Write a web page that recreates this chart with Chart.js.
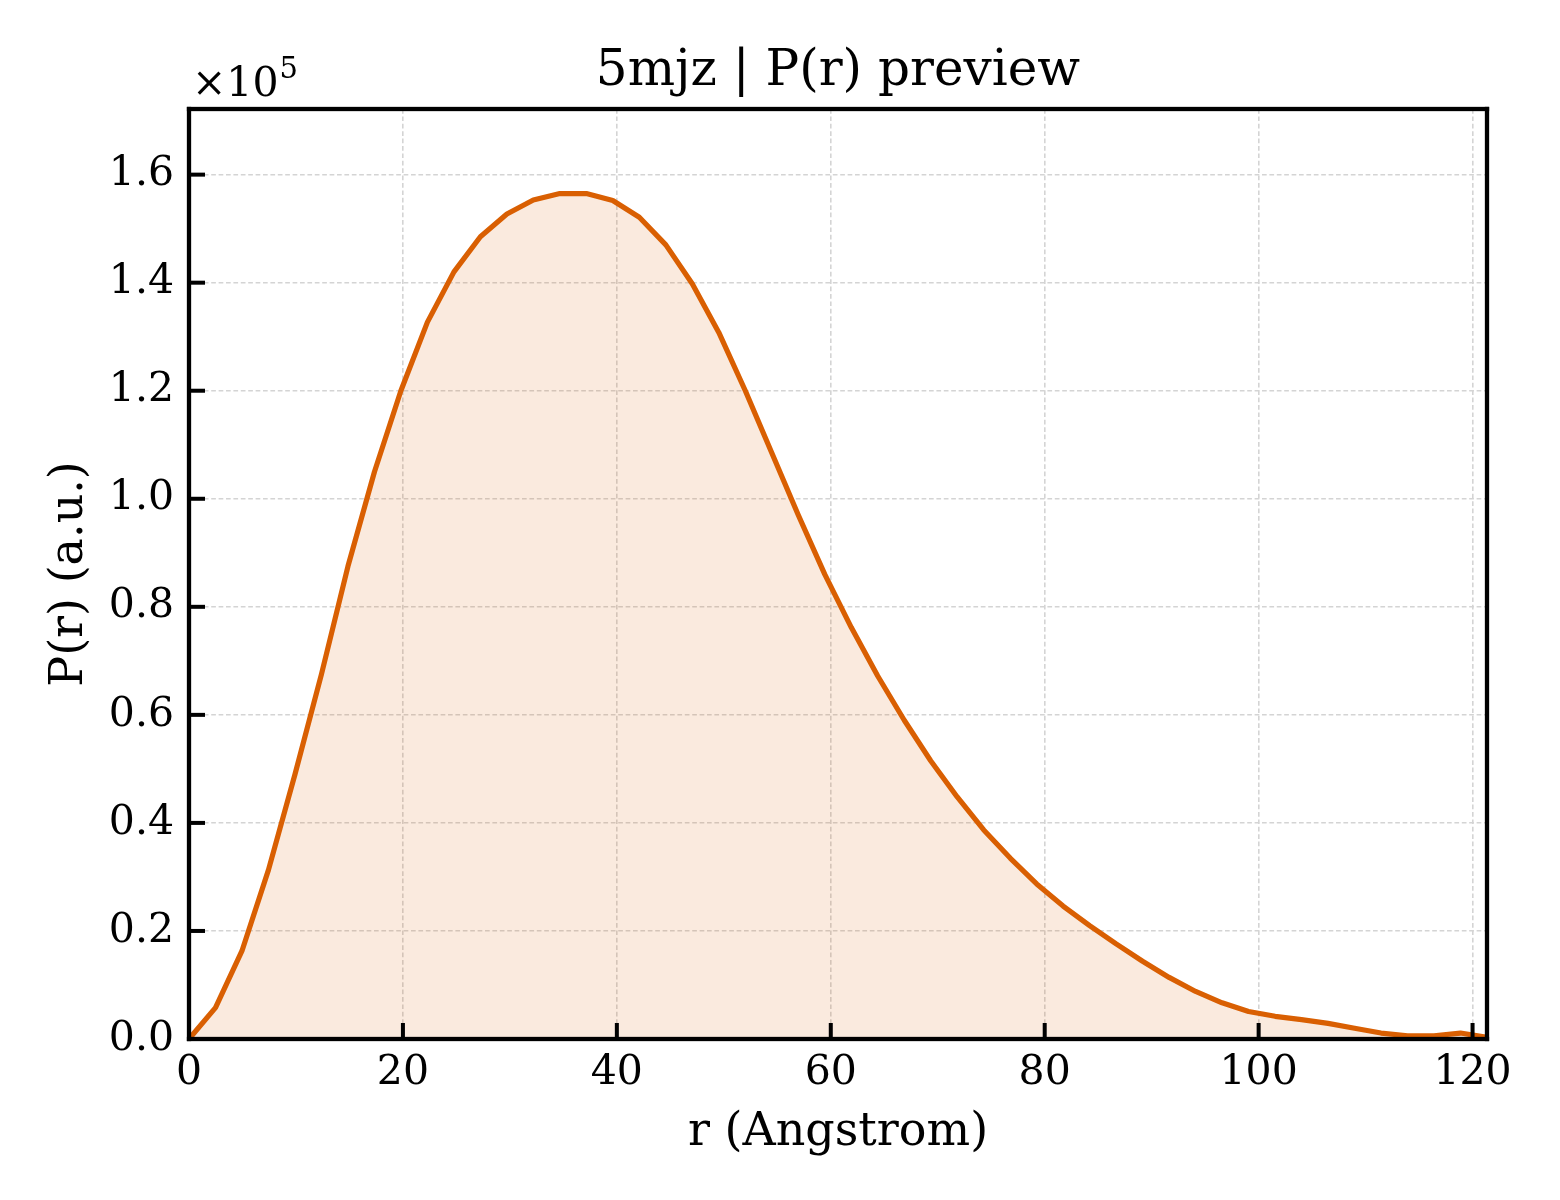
<!DOCTYPE html>
<html>
<head>
<meta charset="utf-8">
<script src="https://cdn.jsdelivr.net/npm/chart.js@4/dist/chart.umd.min.js"></script>
<style>
  html, body { margin: 0; padding: 0; background: #ffffff; }
  #wrap { width: 1560px; height: 1200px; }
</style>
</head>
<body>
<div id="wrap"><canvas id="c" width="1560" height="1200"></canvas></div>
<script>
// ---- data ----
const rValues = [0, 2.48, 4.95, 7.43, 9.91, 12.38, 14.86, 17.34, 19.81, 22.29,
  24.77, 27.24, 29.72, 32.19, 34.67, 37.15, 39.62, 42.10, 44.58, 47.05,
  49.53, 52.01, 54.48, 56.96, 59.44, 61.91, 64.39, 66.87, 69.34, 71.82,
  74.30, 76.77, 79.25, 81.72, 84.20, 86.68, 89.15, 91.63, 94.11, 96.58,
  99.06, 101.54, 104.01, 106.49, 108.97, 111.44, 113.92, 116.40, 118.87, 121.35];
const pValues = [0, 5800, 16300, 31300, 49000, 67500, 87500, 105000, 120000, 132700,
  142000, 148500, 152700, 155300, 156500, 156500, 155200, 152100, 147000, 139800,
  130800, 120000, 108500, 97000, 86000, 76200, 67200, 59000, 51500, 44800,
  38700, 33500, 28700, 24600, 21000, 17600, 14400, 11400, 8800, 6700,
  5100, 4200, 3600, 2900, 2000, 1100, 600, 600, 1100, 300];
const xTickValues = [0, 20, 40, 60, 80, 100, 120];
const yTickValues = [0, 20000, 40000, 60000, 80000, 100000, 120000, 140000, 160000];
const titleText = '5mjz | P(r) preview';
const xLabel = 'r (Angstrom)';
const yLabel = 'P(r) (a.u.)';
const offsetBase = '\u00d710';
const offsetExp = '5';

// ---- styling ----
const FONT = "'DejaVu Serif', 'Liberation Serif', serif";
const lineColor = '#D95F02';
const fillColor = 'rgba(217,95,2,0.13)';
const gridColor = '#d4d4d4';

const points = rValues.map((r, i) => ({ x: r, y: pValues[i] }));

const decoPlugin = {
  id: 'deco',
  afterDraw(chart) {
    const ctx = chart.ctx;
    const a = chart.chartArea;
    const xs = chart.scales.x, ys = chart.scales.y;
    ctx.save();
    ctx.setLineDash([]);
    ctx.fillStyle = '#000';
    // inward ticks
    for (const v of xTickValues) {
      const px = xs.getPixelForValue(v);
      ctx.fillRect(px - 2, a.bottom - 16, 4, 16);
    }
    for (const v of yTickValues) {
      const py = ys.getPixelForValue(v);
      ctx.fillRect(a.left, py - 2, 16, 4);
    }
    // frame
    const fw = 4.3;
    ctx.fillRect(a.left - fw / 2, a.top - fw / 2, a.right - a.left + fw, fw);
    ctx.fillRect(a.left - fw / 2, a.bottom - fw / 2, a.right - a.left + fw, fw);
    ctx.fillRect(a.left - fw / 2, a.top - fw / 2, fw, a.bottom - a.top + fw);
    ctx.fillRect(a.right - fw / 2, a.top - fw / 2, fw, a.bottom - a.top + fw);
    // title
    ctx.textAlign = 'center';
    ctx.textBaseline = 'alphabetic';
    ctx.font = '50px ' + FONT;
    ctx.fillText(titleText, (a.left + a.right) / 2, 85);
    // x label
    ctx.font = '46px ' + FONT;
    ctx.fillText(xLabel, (a.left + a.right) / 2, 1145);
    // y label
    ctx.save();
    ctx.translate(82, (a.top + a.bottom) / 2);
    ctx.rotate(-Math.PI / 2);
    ctx.fillText(yLabel, 0, 0);
    ctx.restore();
    // offset text x10^5
    ctx.textAlign = 'left';
    ctx.font = '41px ' + FONT;
    ctx.fillText(offsetBase, a.left + 3, 96);
    const w = ctx.measureText(offsetBase).width;
    ctx.font = '29px ' + FONT;
    ctx.fillText(offsetExp, a.left + 3 + w + 1, 78);
    ctx.restore();
  }
};

new Chart(document.getElementById('c'), {
  type: 'line',
  data: {
    datasets: [{
      data: points,
      borderColor: lineColor,
      backgroundColor: fillColor,
      borderWidth: 5.2,
      fill: 'origin',
      pointRadius: 0,
      tension: 0,
      borderJoinStyle: 'round',
      borderCapStyle: 'butt',
      clip: 4
    }]
  },
  options: {
    responsive: false,
    devicePixelRatio: 1,
    animation: false,
    layout: { padding: { top: 109, right: 73, left: 0, bottom: 0 } },
    plugins: { legend: { display: false }, title: { display: false }, tooltip: { enabled: false } },
    scales: {
      x: {
        type: 'linear',
        min: rValues[0],
        max: rValues[rValues.length - 1],
        afterBuildTicks(scale) { scale.ticks = xTickValues.map(v => ({ value: v })); },
        afterFit(scale) { scale.height = 161; },
        grid: { color: gridColor, lineWidth: 1.6, drawTicks: false },
        border: { display: false, dash: [4.7, 2.7] },
        ticks: {
          font: { family: FONT, size: 41 },
          color: '#000',
          padding: 10,
          maxRotation: 0,
          callback: v => String(v)
        }
      },
      y: {
        type: 'linear',
        min: 0,
        max: Math.max(...pValues) * 1.1,
        afterBuildTicks(scale) { scale.ticks = yTickValues.map(v => ({ value: v })); },
        afterFit(scale) { scale.width = 189; },
        grid: { color: gridColor, lineWidth: 1.6, drawTicks: false },
        border: { display: false, dash: [4.7, 2.7] },
        ticks: {
          font: { family: FONT, size: 41 },
          color: '#000',
          padding: 15,
          callback: v => (v / 1e5).toFixed(1)
        }
      }
    }
  },
  plugins: [decoPlugin]
});
</script>
</body>
</html>
